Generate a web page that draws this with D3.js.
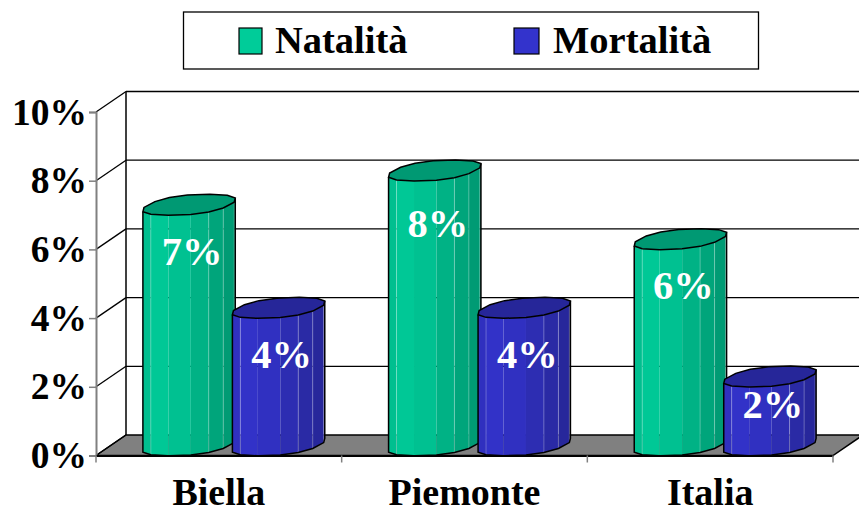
<!DOCTYPE html>
<html>
<head>
<meta charset="utf-8">
<script src="https://cdn.jsdelivr.net/npm/d3@7"></script>
<style>
html,body{margin:0;padding:0;background:#fff;overflow:hidden}
text{font-family:"Liberation Serif","Times New Roman",serif;font-weight:bold}
</style>
</head>
<body>
<svg id="chart" width="859" height="508"></svg>
<script>
const categories = ["Biella", "Piemonte", "Italia"];
const seriesNames = ["Natalità", "Mortalità"];
const natalita = [7, 8, 6];
const mortalita = [4, 4, 2];
const yTicks = [0, 2, 4, 6, 8, 10];
const seriesColors = [
  {light: [0, 204, 153], dark: [0, 150, 112], cap: "#009973", swatch: "#00cc99"},
  {light: [51, 51, 204], dark: [38, 38, 150], cap: "#262699", swatch: "#3333cc"}
];

const svg = d3.select("#chart");
const depth = {x: 30, y: 20.5};
const plot = {left: 96, right: 833, top: 112, bottom: 455.5};

const y = d3.scaleLinear().domain([0, 10]).range([plot.bottom, plot.top]);
const x = d3.scaleBand().domain(categories).range([plot.left, plot.right]);
const sub = d3.scaleBand().domain(seriesNames).range([-89.5, 89.5]);

// Floor, back wall gridlines and side wall
svg.append("polygon")
  .attr("points", [[plot.left, plot.bottom], [plot.left + depth.x, plot.bottom - depth.y],
    [plot.right + depth.x, plot.bottom - depth.y], [plot.right, plot.bottom]].join(" "))
  .attr("fill", "#808080").attr("stroke", "#000").attr("stroke-width", 1.5);

const wall = svg.append("g");
wall.selectAll("line.grid").data(yTicks.slice(1)).join("line")
  .attr("x1", plot.left + depth.x).attr("x2", 859)
  .attr("y1", d => y(d) - depth.y).attr("y2", d => y(d) - depth.y)
  .attr("stroke", "#000").attr("stroke-width", 1.3);
wall.selectAll("line.side").data(yTicks).join("line")
  .attr("x1", plot.left).attr("x2", plot.left + depth.x)
  .attr("y1", d => y(d)).attr("y2", d => y(d) - depth.y)
  .attr("stroke", "#000").attr("stroke-width", 1.3);
wall.append("line")
  .attr("x1", plot.left + depth.x).attr("x2", plot.left + depth.x)
  .attr("y1", y(0) - depth.y).attr("y2", y(10) - depth.y)
  .attr("stroke", "#000").attr("stroke-width", 1.5);

// Value axis on the front-left edge
const yAxis = svg.append("g").attr("transform", `translate(${plot.left},0)`)
  .call(d3.axisLeft(y).tickValues(yTicks).tickSize(7).tickPadding(2).tickFormat(d => d + "%"));
yAxis.select(".domain").attr("stroke", "#808080").attr("stroke-width", 2);
yAxis.selectAll(".tick line").attr("stroke", "#808080").attr("stroke-width", 1.5);
yAxis.selectAll("text").attr("font-size", 37.5).attr("fill", "#000")
  .style("font-family", '"Liberation Serif"').style("font-weight", "bold");

// Category axis with ticks on the band edges
const xAxis = svg.append("g").attr("transform", `translate(0,${plot.bottom})`)
  .call(d3.axisBottom(x).tickSize(0).tickPadding(23));
xAxis.select(".domain").attr("stroke", "#000").attr("stroke-width", 2);
xAxis.selectAll("text").attr("font-size", 38).attr("fill", "#000")
  .style("font-family", '"Liberation Serif"').style("font-weight", "bold");
const edges = categories.map(c => x(c)).concat(plot.right);
svg.append("g").selectAll("line").data(edges).join("line")
  .attr("x1", d => d).attr("x2", d => d)
  .attr("y1", plot.bottom).attr("y2", plot.bottom + 7)
  .attr("stroke", "#808080").attr("stroke-width", 1.5);

// Faceted cylinder: a skewed many-sided section extruded up from the floor.
// The power term squares the section off slightly so the cap ends stay full.
const SIDES = 14, A = 41, B = 19, C = 10.5, ROUND = 0.85;
const fat = v => Math.sign(v) * Math.pow(Math.abs(v), ROUND);
const ring = d3.range(SIDES).map(i => {
  const t = i / SIDES * 2 * Math.PI + 0.2;
  const co = fat(Math.cos(t)), si = fat(Math.sin(t));
  return {dx: A * co + B * si, dy: C * si};
});
const leftI = d3.scan(ring, (a, b) => a.dx - b.dx);
const rightI = d3.scan(ring, (a, b) => b.dx - a.dx);
const front = [];
for (let i = leftI; ; i = (i + 1) % SIDES) {
  front.push(ring[i]);
  if (i === rightI) break;
}
const line = d3.line();
const xL = front[0].dx, xR = front[front.length - 1].dx;
const across = d => (d - xL) / (xR - xL);

function drawBar(cat, sIdx, value) {
  const c = seriesColors[sIdx];
  const cx = x(cat) + x.bandwidth() / 2 + depth.x / 2 + sub(seriesNames[sIdx]) + sub.bandwidth() / 2;
  const yTop = y(value) - depth.y / 2, yBase = y(0) - depth.y / 2;
  const g = svg.append("g");
  const mix = d3.interpolateRgb(`rgb(${c.light})`, `rgb(${c.dark})`);
  const slices = d3.pairs(front);
  // facets, brightest about a quarter of the way across
  g.selectAll("polygon.facet").data(slices).join("polygon")
    .attr("points", ([p, q]) => [
      [cx + p.dx, yTop - p.dy], [cx + q.dx, yTop - q.dy],
      [cx + q.dx, yBase - q.dy], [cx + p.dx, yBase - p.dy]].join(" "))
    .attr("fill", ([p, q]) => {
      const u = across((p.dx + q.dx) / 2);
      return mix(u < 0.25 ? (0.25 - u) * 1.2 : (u - 0.25) / 0.75);
    });
  // pale seams show on the turning edges only
  g.selectAll("line.seam")
    .data(front.slice(1, -1).filter(d => across(d.dx) < 0.15 || across(d.dx) > 0.55))
    .join("line")
    .attr("x1", d => cx + d.dx).attr("x2", d => cx + d.dx)
    .attr("y1", d => yTop - d.dy).attr("y2", d => yBase - d.dy)
    .attr("stroke", "#fff").attr("stroke-opacity", 0.25).attr("stroke-width", 1);
  const outline = front.map(p => [cx + p.dx, yBase - p.dy]);
  g.append("path")
    .attr("d", line([[cx + xL, yTop - front[0].dy], ...outline, [cx + xR, yTop - front[front.length - 1].dy]]))
    .attr("fill", "none").attr("stroke", "#000").attr("stroke-width", 1.5);
  g.append("path")
    .attr("d", line(ring.map(p => [cx + p.dx, yTop - p.dy])) + "Z")
    .attr("fill", c.cap).attr("stroke", "#000").attr("stroke-width", 1.5);
  return cx;
}

// Value labels sit below the cap; the tallest and shortest bars shift them a little
const labelDrop = {2: 31, 8: 56};
categories.forEach((cat, i) => {
  [natalita[i], mortalita[i]].forEach((v, s) => {
    const cx = drawBar(cat, s, v);
    svg.append("text").attr("class", "value")
      .attr("x", cx + 3).attr("y", y(v) + (labelDrop[v] || 50))
      .attr("text-anchor", "middle").attr("font-size", 40.5).attr("fill", "#fff")
      .text(v + "%");
  });
});

// Legend box
const legend = svg.append("g");
legend.append("rect").attr("x", 183.5).attr("y", 12).attr("width", 575).attr("height", 57)
  .attr("fill", "#fff").attr("stroke", "#000").attr("stroke-width", 1.3);
const legendX = d3.scalePoint().domain(seriesNames).range([239, 514]);
seriesNames.forEach((n, i) => {
  legend.append("rect").attr("x", legendX(n)).attr("y", 28)
    .attr("width", i ? 25 : 23).attr("height", 26)
    .attr("fill", seriesColors[i].swatch).attr("stroke", "#000").attr("stroke-width", 1.2);
  legend.append("text").attr("x", legendX(n) + (i ? 39 : 36)).attr("y", 53)
    .attr("font-size", 38.5).attr("fill", "#000").text(n);
});
</script>
</body>
</html>
